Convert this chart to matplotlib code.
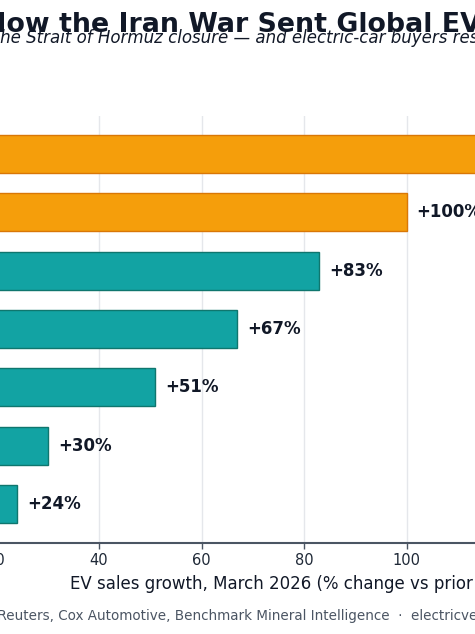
import matplotlib.pyplot as plt

# values, bottom bar first (top bar runs off the crop)
markets = ["Market G", "Market F", "Market E", "Market D", "Market C", "Market B", "Market A"]
growth = [24, 30, 51, 67, 83, 100, 135]
highlight = [False, False, False, False, False, True, True]
xticks = [0, 20, 40, 60, 80, 100, 120, 140]

ORANGE, ORANGE_EDGE = "#F59E0B", "#D97706"
TEAL, TEAL_EDGE = "#12A3A3", "#0F766E"
INK = "#111827"

W, H = 475, 634
fig = plt.figure(figsize=(W / 100, H / 100), dpi=100)
fig.patch.set_facecolor("white")

# the picture is a crop of a wider chart, so the axes spill past the figure
px_per_unit = 5.125
left_px = -106
xmax = 150
ax = fig.add_axes([left_px / W, 91 / H, xmax * px_per_unit / W, 427 / H])

colors = [ORANGE if h else TEAL for h in highlight]
edges = [ORANGE_EDGE if h else TEAL_EDGE for h in highlight]
ypos = range(len(markets))
ax.barh(ypos, growth, height=0.65, color=colors, edgecolor=edges, linewidth=1, zorder=3)

for y, v in zip(ypos, growth):
    ax.text(v + 2, y, f"+{v}%", va="center", ha="left",
            fontsize=12, fontweight="bold", color=INK, zorder=4)

ax.set_xlim(0, xmax)
ax.set_ylim(-0.669, 6.651)
ax.set_xticks(xticks)
ax.set_yticks(list(ypos))
ax.set_yticklabels(markets)
ax.tick_params(axis="x", labelsize=10.5, colors="#4B5563", labelcolor="#1F2937", length=4, width=1)
ax.tick_params(axis="y", length=0)
ax.grid(axis="x", color="#E5E7EB", linewidth=1, zorder=0)
for side in ("top", "right", "left"):
    ax.spines[side].set_visible(False)
ax.spines["bottom"].set_color("#4B5563")
ax.spines["bottom"].set_linewidth(1.5)

ax.set_xlabel("EV sales growth, March 2026 (% change vs prior year)",
              fontsize=12, color=INK, ha="left")
ax.xaxis.set_label_coords((70 - left_px) / (xmax * px_per_unit), -0.075)

fig.text(-15.5 / W, 1 - 31.5 / H, "How the Iran War Sent Global EV Sales Surging",
         fontsize=19.3, fontweight="bold", color=INK, va="baseline", ha="left")
fig.text(-10 / W, 1 - 43 / H,
         "The Strait of Hormuz closure \u2014 and electric-car buyers responded",
         fontsize=12, style="italic", color=INK, va="baseline", ha="left")
fig.text(-57.5 / W, 1 - 620 / H,
         "Source: Reuters, Cox Automotive, Benchmark Mineral Intelligence  \u00b7  electricvehicles",
         fontsize=9.75, color="#4B5563", va="baseline", ha="left")

fig.savefig("out.png", dpi=100)
